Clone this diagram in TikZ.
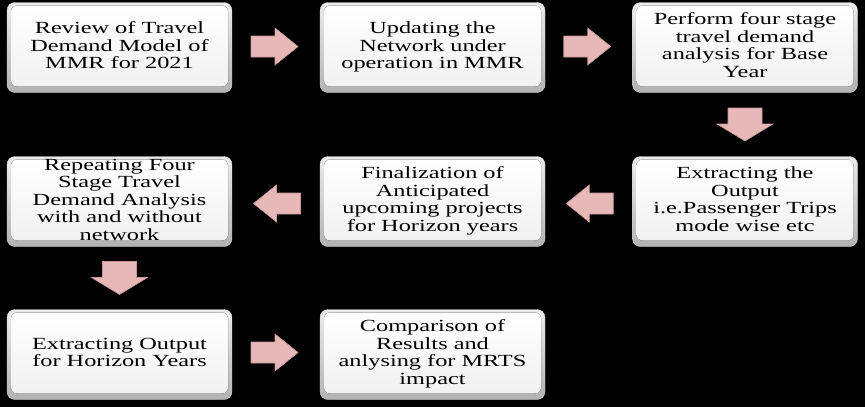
\documentclass[tikz,border=0pt]{standalone}
\usepackage{fontspec}
\setmainfont{Liberation Serif}
\usepackage{graphicx}
\usetikzlibrary{calc}
\definecolor{arrowpink}{RGB}{230,184,183}
\definecolor{arrowedge}{RGB}{200,150,150}
\newcommand{\stretchtxt}[1]{\scalebox{1.43}[1]{\fontsize{17}{17.5}\selectfont\begin{tabular}{@{}c@{}}#1\end{tabular}}}
\tikzset{
  procbox/.style={rounded corners=8pt, minimum width=225pt, minimum height=90pt,
    inner sep=0pt, top color=gray!15, bottom color=gray!60, draw=gray!35, line width=0.4pt,
    path picture={\fill[top color=white, bottom color=gray!12, rounded corners=6pt]
      ([xshift=4pt,yshift=-3pt]path picture bounding box.north west) rectangle
      ([xshift=-4pt,yshift=6pt]path picture bounding box.south east);}},
  blockarrow/.style={draw=arrowedge, fill=arrowpink, line width=0.6pt, line join=miter},
  rblock/.pic={\path[blockarrow] (-23.5,-10.5) -- (0.5,-10.5) -- (0.5,-18.5) -- (23.5,0)
     -- (0.5,18.5) -- (0.5,10.5) -- (-23.5,10.5) -- cycle;},
  dblock/.pic={\path[blockarrow] (-17,-16.5) -- (17,-16.5) -- (17,-0.5) -- (28,-0.5)
     -- (0,16.5) -- (-28,-0.5) -- (-17,-0.5) -- cycle;}
}
\begin{document}
\begin{tikzpicture}[x=1pt,y=-1pt]
\fill[black] (0,0) rectangle (865,407);
\useasboundingbox (0,0) rectangle (865,407);
% boxes
\node[procbox] (b1) at (119.5,47.5) {\stretchtxt{Review of Travel\\Demand Model of\\MMR for 2021}};
\node[procbox] (b2) at (432.5,47.5) {\stretchtxt{Updating the\\Network under\\operation in MMR}};
\node[procbox] (b3) at (745,47.5) {\stretchtxt{Perform four stage\\travel demand\\analysis for Base\\Year}};
\node[procbox] (b4) at (745,201.5) {\stretchtxt{Extracting the\\Output\\i.e.Passenger Trips\\mode wise etc}};
\node[procbox] (b5) at (432.5,201.5) {\stretchtxt{Finalization of\\Anticipated\\upcoming projects\\for Horizon years}};
\node[procbox] (b6) at (119.5,201.5) {\stretchtxt{Repeating Four\\Stage Travel\\Demand Analysis\\with and without\\network}};
\node[procbox] (b7) at (119.5,354.5) {\stretchtxt{Extracting Output\\for Horizon Years}};
\node[procbox] (b8) at (432.5,354.5) {\stretchtxt{Comparison of\\Results and\\anlysing for MRTS\\impact}};
% block arrows between boxes
\coordinate (a12) at ($(b1.east)!0.5!(b2.west)+(-1.5,-1)$);
\coordinate (a23) at ($(b2.east)!0.5!(b3.west)+(-1.5,-1)$);
\coordinate (a34) at ($(b3.south)!0.5!(b4.north)$);
\coordinate (a45) at ($(b4.west)!0.5!(b5.east)+(1,2)$);
\coordinate (a56) at ($(b5.west)!0.5!(b6.east)+(1,2)$);
\coordinate (a67) at ($(b6.south)!0.5!(b7.north)$);
\coordinate (a78) at ($(b7.east)!0.5!(b8.west)+(-1.5,-2)$);
\pic at (a12) {rblock};
\pic at (a23) {rblock};
\pic at (a34) {dblock};
\pic[xscale=-1] at (a45) {rblock};
\pic[xscale=-1] at (a56) {rblock};
\pic at (a67) {dblock};
\pic at (a78) {rblock};
\end{tikzpicture}
\end{document}
